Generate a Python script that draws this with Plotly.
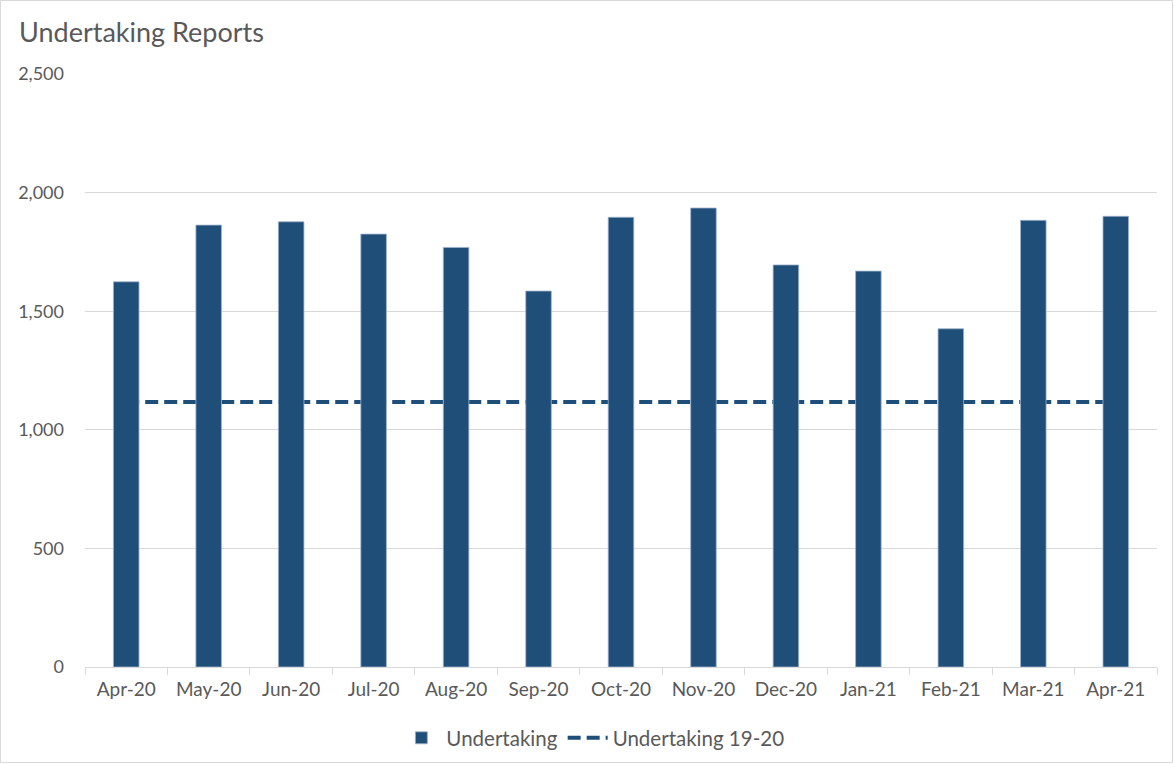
import plotly.graph_objects as go

months = ["Apr-20", "May-20", "Jun-20", "Jul-20", "Aug-20", "Sep-20", "Oct-20",
          "Nov-20", "Dec-20", "Jan-21", "Feb-21", "Mar-21", "Apr-21"]
undertaking = [1624, 1863, 1877, 1825, 1769, 1585, 1896, 1935, 1695, 1669, 1426, 1883, 1900]
undertaking_1920 = [1117] * len(months)
y_ticks = [0, 500, 1000, 1500, 2000, 2500]
y_tick_text = ["0", "500", "1,000", "1,500", "2,000", "2,500"]

NAVY = "#1F4E79"
GREY_TXT = "#595959"
GRID = "#D9D9D9"
FONT = "Lato, 'Open Sans', sans-serif"

fig = go.Figure()

# dashed line drawn on the base axes (behind the bars)
fig.add_trace(go.Scatter(
    x=months, y=undertaking_1920, mode="lines", name="Undertaking 19-20",
    line=dict(color=NAVY, width=4, dash="13px,6px"),
    xaxis="x", yaxis="y", legendrank=2, hoverinfo="skip"))

# bars on overlaying axes so they sit above the line
fig.add_trace(go.Bar(
    x=months, y=undertaking, name="Undertaking",
    marker=dict(color=NAVY, line=dict(color="#9FB4CC", width=0.8)),
    xaxis="x2", yaxis="y2", legendrank=1))

W, H = 1174, 764
L, R, T, B = 85, 17, 74, 97
pw, ph = W - L - R, H - T - B

def px_to_paper_x(px):
    return (px - L) / pw

def px_to_paper_y(py):
    return (H - B - py) / ph

common_y = dict(range=[0, 2500], tickvals=y_ticks, ticktext=y_tick_text)
common_x = dict(categoryorder="array", categoryarray=months, range=[-0.5, 12.5])

fig.update_layout(
    width=W, height=H,
    margin=dict(l=L, r=R, t=T, b=B),
    paper_bgcolor="white", plot_bgcolor="white",
    font=dict(family=FONT, color=GREY_TXT, size=19),
    bargap=0.69,
    title=dict(text="Undertaking Reports", x=19 / W, xanchor="left", xref="container",
               y=1 - 33 / H, yanchor="middle", yref="container",
               font=dict(size=27, color=GREY_TXT, family=FONT)),
    xaxis=dict(**common_x, showgrid=False, showline=True, linecolor=GRID, linewidth=1,
               ticks="outside", tickson="boundaries", ticklen=7, tickcolor=GRID,
               tickfont=dict(size=19, color=GREY_TXT), ticklabelstandoff=5),
    yaxis=dict(**common_y, showgrid=True, gridcolor=GRID, gridwidth=1, zeroline=False,
               showline=False, ticks="", tickfont=dict(size=18, color=GREY_TXT),
               ticklabelstandoff=20),
    xaxis2=dict(**common_x, overlaying="x", visible=False),
    yaxis2=dict(**common_y, overlaying="y", visible=False),
    showlegend=True,
    legend=dict(orientation="h", xref="container", yref="container",
                x=0.505, xanchor="center", y=1 - 738 / H, yanchor="middle",
                font=dict(size=20.5, color=GREY_TXT), itemwidth=40,
                traceorder="normal", tracegroupgap=0),
    shapes=[dict(type="rect", xref="paper", yref="paper",
                 x0=px_to_paper_x(0.5), x1=px_to_paper_x(W - 1.5),
                 y0=px_to_paper_y(H - 1.5), y1=px_to_paper_y(0.5),
                 line=dict(color=GRID, width=1), fillcolor="rgba(0,0,0,0)", layer="below")],
)

fig.write_html("out.html", config={"displayModeBar": False},
               post_script="document.body.style.margin='0';")
